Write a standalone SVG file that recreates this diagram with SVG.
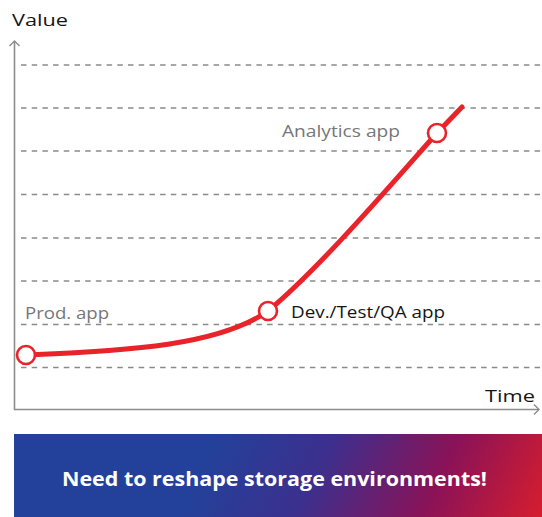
<svg xmlns="http://www.w3.org/2000/svg" width="542" height="517" viewBox="0 0 542 517">
  <style>
    .grid { stroke: #8a8a8a; stroke-width: 1.3; stroke-dasharray: 5.5 5.2; fill: none; }
    .axis { stroke: #8c8c8c; stroke-width: 1.6; fill: none; }
    .curve { stroke: #e8242a; stroke-width: 5; fill: none; stroke-linecap: round; }
    .dot { fill: #ffffff; stroke: #e8242a; stroke-width: 2.6; }
    .lbl { font-family: "Open Sans", "Noto Sans", sans-serif; font-size: 17px; }
    .muted { fill: #767676; }
    .dark { fill: #151515; }
    .banner-text { font-family: "Open Sans", "Noto Sans", sans-serif; font-size: 20px; font-weight: bold; fill: #ffffff; }
  </style>
  <defs>
    <marker id="arrow" markerWidth="12" markerHeight="12" refX="6" refY="6" orient="auto" markerUnits="userSpaceOnUse">
      <path d="M1,1 L6,6 L1,11" fill="none" stroke="#8c8c8c" stroke-width="1.4"/>
    </marker>
    <linearGradient id="bannerGrad" gradientUnits="userSpaceOnUse" x1="230" y1="410" x2="550" y2="560">
      <stop offset="0" stop-color="#23419a"/>
      <stop offset="0.3" stop-color="#3d2f8d"/>
      <stop offset="0.62" stop-color="#8a1258"/>
      <stop offset="1" stop-color="#e82024"/>
    </linearGradient>
  </defs>

  <!-- grid lines -->
  <g id="grid">
    <line class="grid" x1="21" y1="65" x2="542" y2="65"/>
    <line class="grid" x1="21" y1="108" x2="542" y2="108"/>
    <line class="grid" x1="21" y1="151" x2="542" y2="151"/>
    <line class="grid" x1="21" y1="194.5" x2="542" y2="194.5"/>
    <line class="grid" x1="21" y1="238" x2="542" y2="238"/>
    <line class="grid" x1="21" y1="281" x2="542" y2="281"/>
    <line class="grid" x1="21" y1="324.5" x2="542" y2="324.5"/>
    <line class="grid" x1="21" y1="367.5" x2="542" y2="367.5"/>
  </g>

  <!-- axes -->
  <g id="axes">
    <line class="axis" x1="14.5" y1="410" x2="14.5" y2="41" marker-end="url(#arrow)"/>
    <line class="axis" x1="14" y1="409.5" x2="539" y2="409.5" marker-end="url(#arrow)"/>
    <text class="lbl dark" x="12" y="26" font-size="18.5" textLength="56" lengthAdjust="spacingAndGlyphs">Value</text>
    <text class="lbl dark" x="485" y="402" font-size="18.5" textLength="50" lengthAdjust="spacingAndGlyphs">Time</text>
  </g>

  <!-- growth curve -->
  <g id="connectors">
    <path class="curve" d="M26,355 C130,351 220,345 268,311 C320,268 395,180 437,133 L462,107"/>
  </g>

  <!-- milestones -->
  <g id="prod">
    <circle class="dot" cx="26" cy="355" r="9"/>
    <text class="lbl muted" x="25" y="319" textLength="84" lengthAdjust="spacingAndGlyphs">Prod. app</text>
  </g>
  <g id="devtest">
    <circle class="dot" cx="268" cy="311" r="9"/>
    <text class="lbl dark" x="291" y="318" textLength="154" lengthAdjust="spacingAndGlyphs">Dev./Test/QA app</text>
  </g>
  <g id="analytics">
    <circle class="dot" cx="437" cy="133" r="9"/>
    <text class="lbl muted" x="282" y="137" textLength="118" lengthAdjust="spacingAndGlyphs">Analytics app</text>
  </g>

  <!-- banner -->
  <g id="banner">
    <rect x="14" y="434" width="528" height="83" fill="url(#bannerGrad)"/>
    <text class="banner-text" x="62" y="486" textLength="425" lengthAdjust="spacingAndGlyphs">Need to reshape storage environments!</text>
  </g>
</svg>
